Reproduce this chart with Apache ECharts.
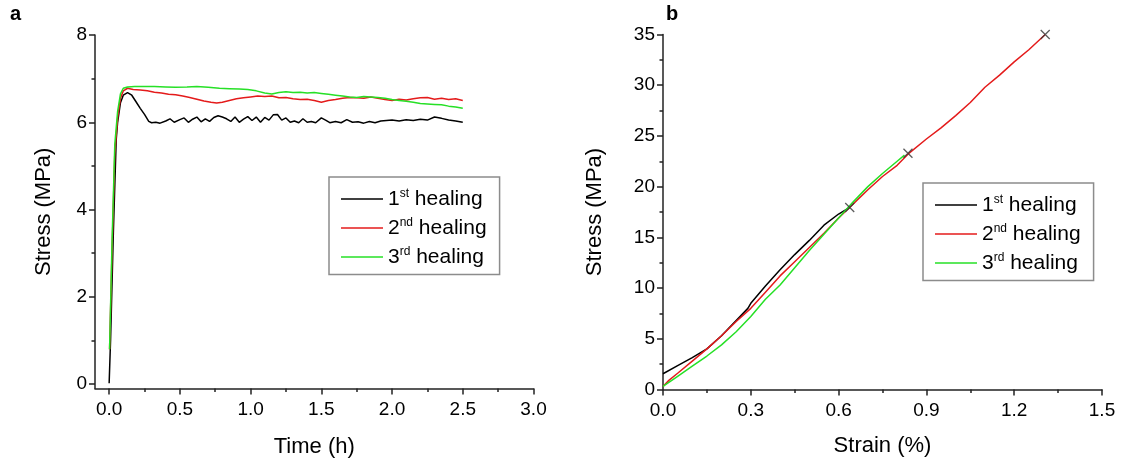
<!DOCTYPE html>
<html>
<head>
<meta charset="utf-8">
<title>Healing stress curves</title>
<script src="https://cdn.jsdelivr.net/npm/echarts@6/dist/echarts.min.js"></script>
<style>
  html, body { margin: 0; padding: 0; background: #fff; }
  #chart { width: 1122px; height: 463px; }
</style>
</head>
<body>
<div id="chart"></div>
<script>
// panel a: stress (MPa) against time (h)
const timeStress1st = [
  [0.000, 0.02], [0.010, 1.0], [0.030, 3.5], [0.050, 5.6], [0.060, 6.0], [0.080, 6.45],
  [0.100, 6.62], [0.130, 6.68], [0.160, 6.62], [0.190, 6.47], [0.220, 6.32], [0.250, 6.18],
  [0.280, 6.02], [0.30, 5.99], [0.33, 6.00], [0.36, 5.98], [0.40, 6.03], [0.43, 6.08],
  [0.46, 6.00], [0.50, 6.06], [0.53, 6.10], [0.56, 6.00], [0.59, 6.07], [0.62, 6.12],
  [0.65, 6.01], [0.68, 6.08], [0.71, 6.02], [0.74, 6.11], [0.77, 6.15], [0.80, 6.12],
  [0.83, 6.08], [0.86, 6.02], [0.89, 6.12], [0.92, 6.00], [0.95, 6.07], [0.98, 6.13],
  [1.01, 6.04], [1.04, 6.12], [1.07, 6.00], [1.10, 6.11], [1.13, 6.05], [1.16, 6.17],
  [1.19, 6.18], [1.22, 6.05], [1.25, 6.10], [1.28, 6.00], [1.31, 6.03], [1.34, 5.99],
  [1.37, 6.08], [1.40, 6.00], [1.43, 6.02], [1.46, 5.99], [1.50, 6.10], [1.53, 6.05],
  [1.56, 5.99], [1.60, 6.02], [1.64, 5.99], [1.68, 6.06], [1.72, 6.00], [1.76, 6.01],
  [1.80, 5.98], [1.84, 6.02], [1.88, 5.99], [1.92, 6.03], [1.96, 6.04], [2.00, 6.05],
  [2.05, 6.03], [2.10, 6.06], [2.15, 6.04], [2.20, 6.07], [2.25, 6.05], [2.30, 6.12],
  [2.35, 6.09], [2.40, 6.05], [2.45, 6.03], [2.50, 6.00]
];
const timeStress2nd = [
  [0.003, 0.8], [0.02, 3.0], [0.04, 5.3], [0.06, 6.1], [0.08, 6.55], [0.10, 6.72],
  [0.13, 6.78], [0.17, 6.75], [0.22, 6.74], [0.27, 6.72], [0.32, 6.69], [0.37, 6.67],
  [0.42, 6.64], [0.47, 6.63], [0.52, 6.60], [0.57, 6.57], [0.62, 6.53], [0.67, 6.49],
  [0.72, 6.46], [0.76, 6.44], [0.80, 6.46], [0.85, 6.50], [0.90, 6.54], [0.95, 6.56],
  [1.00, 6.58], [1.05, 6.60], [1.10, 6.59], [1.15, 6.60], [1.20, 6.56], [1.25, 6.57],
  [1.30, 6.54], [1.35, 6.52], [1.40, 6.53], [1.45, 6.50], [1.50, 6.46], [1.55, 6.50],
  [1.60, 6.52], [1.65, 6.55], [1.70, 6.57], [1.75, 6.56], [1.80, 6.55], [1.85, 6.58],
  [1.90, 6.55], [1.95, 6.52], [2.00, 6.50], [2.05, 6.53], [2.10, 6.51], [2.15, 6.54],
  [2.20, 6.56], [2.25, 6.57], [2.30, 6.53], [2.35, 6.55], [2.40, 6.52], [2.45, 6.54],
  [2.50, 6.50]
];
const timeStress3rd = [
  [0.003, 0.8], [0.02, 3.2], [0.04, 5.5], [0.06, 6.25], [0.08, 6.65], [0.10, 6.78],
  [0.13, 6.81], [0.18, 6.82], [0.25, 6.82], [0.32, 6.82], [0.40, 6.81], [0.47, 6.80],
  [0.55, 6.81], [0.62, 6.82], [0.70, 6.80], [0.78, 6.78], [0.85, 6.77], [0.92, 6.76],
  [0.98, 6.75], [1.04, 6.72], [1.10, 6.67], [1.15, 6.65], [1.20, 6.68], [1.25, 6.70],
  [1.30, 6.68], [1.35, 6.69], [1.40, 6.67], [1.45, 6.68], [1.50, 6.66], [1.55, 6.64],
  [1.60, 6.62], [1.65, 6.60], [1.70, 6.58], [1.75, 6.57], [1.80, 6.59], [1.85, 6.58],
  [1.90, 6.57], [1.95, 6.55], [2.00, 6.52], [2.05, 6.50], [2.10, 6.48], [2.15, 6.46],
  [2.20, 6.43], [2.25, 6.42], [2.30, 6.41], [2.35, 6.40], [2.40, 6.37], [2.45, 6.35],
  [2.50, 6.32]
];

// panel b: stress (MPa) against strain (%)
const strainStress1st = [
  [0, 1.55], [0.05, 2.35], [0.10, 3.15], [0.15, 4.0], [0.20, 5.3], [0.25, 6.8], [0.29, 8.0],
  [0.30, 8.5], [0.35, 10.2], [0.40, 11.8], [0.45, 13.3], [0.50, 14.7], [0.55, 16.2],
  [0.60, 17.3], [0.638, 17.95]
];
const strainStress2nd = [
  [0, 0.3], [0.02, 0.9], [0.05, 1.6], [0.10, 2.8], [0.15, 4.0], [0.20, 5.3], [0.25, 6.7],
  [0.30, 8.0], [0.35, 9.6], [0.40, 11.2], [0.45, 12.6], [0.50, 14.0], [0.55, 15.4],
  [0.60, 16.9], [0.65, 18.3], [0.70, 19.7], [0.75, 21.0], [0.80, 22.1], [0.837, 23.2],
  [0.90, 24.7], [0.95, 25.8], [1.00, 27.0], [1.05, 28.3], [1.10, 29.8], [1.15, 31.0],
  [1.20, 32.3], [1.25, 33.5], [1.306, 35.0]
];
const strainStress3rd = [
  [0, 0.3], [0.05, 1.3], [0.10, 2.3], [0.15, 3.3], [0.20, 4.4], [0.25, 5.7], [0.30, 7.2],
  [0.35, 8.9], [0.40, 10.3], [0.45, 12.0], [0.50, 13.7], [0.55, 15.3], [0.60, 16.9],
  [0.65, 18.5], [0.70, 20.0], [0.75, 21.3], [0.80, 22.5], [0.825, 23.1]
];
// fracture points, drawn as crosses
const breakPoints = [[0.638, 17.95], [0.837, 23.3], [1.306, 35.0]];

const seriesNames = ['1st healing', '2nd healing', '3rd healing'];
const seriesColors = ['#000000', '#e41b1b', '#26e026'];

// tick values for panel a (axis starts a little below zero)
const timeTicks = [0, 0.5, 1.0, 1.5, 2.0, 2.5, 3.0];
const timeMinorTicks = [0.25, 0.75, 1.25, 1.75, 2.25, 2.75];
const stressTicksA = [0, 2, 4, 6, 8];
const stressMinorTicksA = [1, 3, 5, 7];

const font = 'Liberation Sans, Arial, sans-serif';
const axisColor = '#222';
const tickLine = { color: axisColor, width: 1.5 };
const labelStyle = { fontSize: 19, color: '#000', fontFamily: font };
const nameStyle = { fontSize: 22, color: '#000', fontFamily: font };

const chart = echarts.init(document.getElementById('chart'));

const legendBox = (left, top) => ({
  orient: 'vertical',
  left: left,
  top: top,
  data: seriesNames,
  icon: 'rect',
  itemWidth: 42,
  itemHeight: 1.6,
  itemGap: 7.5,
  padding: [11, 13, 7, 12],
  borderColor: '#8c8c8c',
  borderWidth: 1.5,
  backgroundColor: '#fff',
  formatter: name => '{n|' + name[0] + '}{s|' + name.slice(1, 3) + '}{n| healing}',
  textStyle: {
    rich: {
      n: { fontSize: 21, lineHeight: 22, color: '#000', fontFamily: font },
      s: { fontSize: 12, lineHeight: 12, color: '#000', fontFamily: font, verticalAlign: 'top' }
    }
  }
});

const lineSeries = (name, data, color, axisIndex) => ({
  name: name,
  type: 'line',
  xAxisIndex: axisIndex,
  yAxisIndex: axisIndex,
  data: data,
  symbol: 'none',
  lineStyle: { color: color, width: 1.5 },
  itemStyle: { color: color },
  z: 3
});

chart.setOption({
  animation: false,
  backgroundColor: '#fff',
  title: [
    { text: 'a', left: 10, top: 4, padding: 0, textStyle: { fontSize: 20, fontWeight: 'bold', color: '#000', fontFamily: font } },
    { text: 'b', left: 666, top: 4, padding: 0, textStyle: { fontSize: 20, fontWeight: 'bold', color: '#000', fontFamily: font } }
  ],
  grid: [
    { left: 95, top: 35, width: 438.5, height: 353.5 },
    { left: 663, top: 34.5, width: 439, height: 355 }
  ],
  legend: [legendBox(329, 177), legendBox(923, 183)],
  xAxis: [
    {
      gridIndex: 0, type: 'value', min: -0.1, max: 3.0, position: 'bottom',
      axisLine: { onZero: false, lineStyle: tickLine },
      axisTick: { customValues: timeTicks, length: 6, lineStyle: tickLine },
      axisLabel: { customValues: timeTicks, formatter: v => v.toFixed(1), margin: 12, ...labelStyle },
      splitLine: { show: false },
      name: 'Time (h)', nameLocation: 'middle', nameGap: 47, nameTextStyle: nameStyle
    },
    {
      gridIndex: 0, type: 'value', min: -0.1, max: 3.0, position: 'bottom',
      axisLine: { show: false, onZero: false },
      axisTick: { customValues: timeMinorTicks, length: 3.5, lineStyle: tickLine },
      axisLabel: { show: false },
      splitLine: { show: false }
    },
    {
      gridIndex: 1, type: 'value', min: 0, max: 1.5, interval: 0.3, position: 'bottom',
      axisLine: { onZero: false, lineStyle: tickLine },
      axisTick: { length: 6, lineStyle: tickLine },
      minorTick: { show: true, splitNumber: 2, length: 3.5, lineStyle: tickLine },
      axisLabel: { formatter: v => v.toFixed(1), margin: 12, ...labelStyle },
      splitLine: { show: false },
      name: 'Strain (%)', nameLocation: 'middle', nameGap: 45, nameTextStyle: nameStyle
    }
  ],
  yAxis: [
    {
      gridIndex: 0, type: 'value', min: -0.1, max: 8, position: 'left',
      axisLine: { show: true, onZero: false, lineStyle: tickLine },
      axisTick: { show: true, customValues: stressTicksA, length: 6, lineStyle: tickLine },
      axisLabel: { customValues: stressTicksA, margin: 8, ...labelStyle },
      splitLine: { show: false },
      name: 'Stress (MPa)', nameLocation: 'middle', nameGap: 40, nameTextStyle: nameStyle
    },
    {
      gridIndex: 0, type: 'value', min: -0.1, max: 8, position: 'left',
      axisLine: { show: false, onZero: false },
      axisTick: { show: true, customValues: stressMinorTicksA, length: 3.5, lineStyle: tickLine },
      axisLabel: { show: false },
      splitLine: { show: false }
    },
    {
      gridIndex: 1, type: 'value', min: 0, max: 35, interval: 5, position: 'left',
      axisLine: { show: true, onZero: false, lineStyle: tickLine },
      axisTick: { show: true, length: 6, lineStyle: tickLine },
      minorTick: { show: true, splitNumber: 2, length: 3.5, lineStyle: tickLine },
      axisLabel: { margin: 8, ...labelStyle },
      splitLine: { show: false },
      name: 'Stress (MPa)', nameLocation: 'middle', nameGap: 57, nameTextStyle: nameStyle
    }
  ],
  series: [
    lineSeries(seriesNames[0], timeStress1st, seriesColors[0], 0),
    lineSeries(seriesNames[1], timeStress2nd, seriesColors[1], 0),
    lineSeries(seriesNames[2], timeStress3rd, seriesColors[2], 0),
    lineSeries(seriesNames[0], strainStress1st, seriesColors[0], 2),
    lineSeries(seriesNames[1], strainStress2nd, seriesColors[1], 2),
    lineSeries(seriesNames[2], strainStress3rd, seriesColors[2], 2),
    {
      name: 'break',
      type: 'scatter',
      xAxisIndex: 2,
      yAxisIndex: 2,
      data: breakPoints,
      symbol: 'path://M0 0L10 10M10 0L0 10',
      symbolSize: 9,
      itemStyle: { color: 'rgba(0,0,0,0)', borderColor: '#333', borderWidth: 1.3 },
      z: 5
    }
  ]
});
</script>
</body>
</html>
